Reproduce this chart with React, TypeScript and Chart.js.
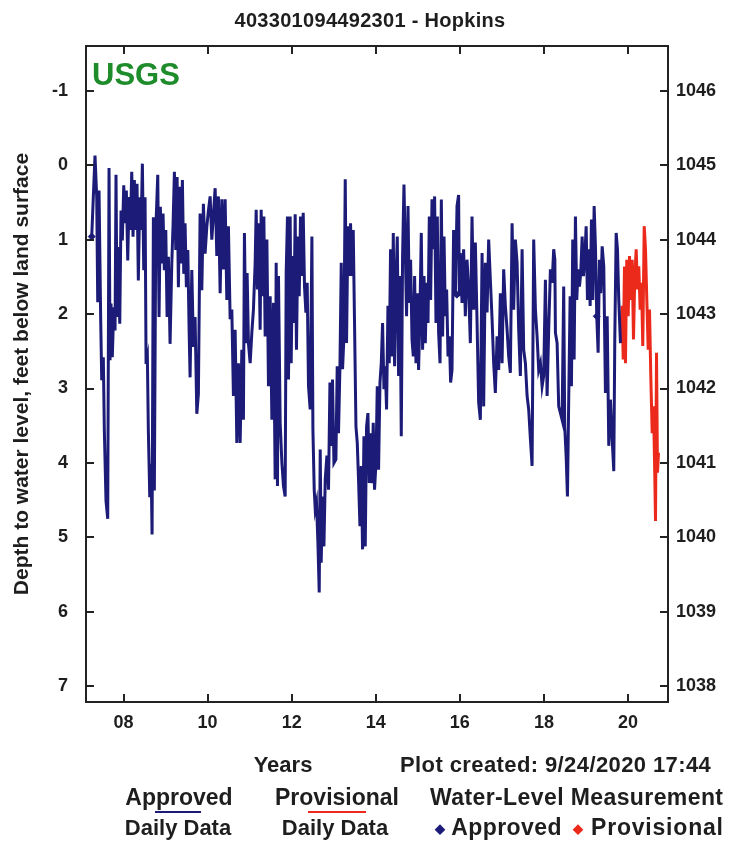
import React, { useEffect, useRef } from "react";
import { Chart, registerables } from "chart.js";

Chart.register(...registerables);

// ---------- data (decimal years, depth to water in feet below land surface) ----------
const approvedYears = [
  2007.243, 2007.321, 2007.362, 2007.386, 2007.417, 2007.457, 2007.481, 2007.519, 2007.543, 2007.583,
  2007.624, 2007.655, 2007.679, 2007.702, 2007.733, 2007.767, 2007.798, 2007.821, 2007.845, 2007.876,
  2007.91, 2007.94, 2007.971, 2008.005, 2008.036, 2008.067, 2008.1, 2008.131, 2008.162, 2008.195,
  2008.226, 2008.257, 2008.29, 2008.321, 2008.352, 2008.386, 2008.417, 2008.448, 2008.481, 2008.512,
  2008.536, 2008.567, 2008.59, 2008.624, 2008.655, 2008.679, 2008.71, 2008.733, 2008.767, 2008.814,
  2008.845, 2008.876, 2008.91, 2008.94, 2008.971, 2009.005, 2009.036, 2009.067, 2009.107, 2009.148,
  2009.179, 2009.21, 2009.243, 2009.274, 2009.305, 2009.338, 2009.369, 2009.4, 2009.433, 2009.464,
  2009.495, 2009.529, 2009.56, 2009.583, 2009.624, 2009.662, 2009.702, 2009.743, 2009.781, 2009.821,
  2009.862, 2009.9, 2009.94, 2009.981, 2010.019, 2010.06, 2010.1, 2010.179, 2010.219, 2010.257,
  2010.298, 2010.338, 2010.376, 2010.417, 2010.457, 2010.495, 2010.536, 2010.576, 2010.614, 2010.655,
  2010.695, 2010.733, 2010.774, 2010.814, 2010.852, 2010.876, 2010.91, 2010.94, 2010.971, 2011.012,
  2011.052, 2011.09, 2011.131, 2011.155, 2011.186, 2011.21, 2011.25, 2011.274, 2011.305, 2011.338,
  2011.369, 2011.41, 2011.448, 2011.488, 2011.529, 2011.567, 2011.607, 2011.631, 2011.662, 2011.686,
  2011.726, 2011.767, 2011.805, 2011.845, 2011.869, 2011.9, 2011.924, 2011.964, 2011.988, 2012.019,
  2012.052, 2012.083, 2012.114, 2012.148, 2012.179, 2012.21, 2012.243, 2012.274, 2012.305, 2012.338,
  2012.369, 2012.4, 2012.44, 2012.481, 2012.505, 2012.536, 2012.56, 2012.59, 2012.624, 2012.655,
  2012.679, 2012.702, 2012.733, 2012.767, 2012.798, 2012.838, 2012.876, 2012.91, 2012.94, 2012.971,
  2013.005, 2013.052, 2013.083, 2013.114, 2013.148, 2013.179, 2013.21, 2013.243, 2013.274, 2013.305,
  2013.338, 2013.369, 2013.4, 2013.433, 2013.464, 2013.495, 2013.529, 2013.56, 2013.59, 2013.624,
  2013.655, 2013.686, 2013.719, 2013.75, 2013.781, 2013.814, 2013.845, 2013.876, 2013.91, 2013.94,
  2013.971, 2014.005, 2014.036, 2014.067, 2014.1, 2014.131, 2014.162, 2014.195, 2014.226, 2014.257,
  2014.29, 2014.321, 2014.352, 2014.386, 2014.417, 2014.448, 2014.481, 2014.512, 2014.543, 2014.576,
  2014.607, 2014.638, 2014.671, 2014.702, 2014.733, 2014.767, 2014.798, 2014.829, 2014.862, 2014.893,
  2014.924, 2014.957, 2014.988, 2015.019, 2015.052, 2015.083, 2015.114, 2015.148, 2015.179, 2015.21,
  2015.243, 2015.274, 2015.305, 2015.338, 2015.369, 2015.4, 2015.433, 2015.464, 2015.495, 2015.529,
  2015.56, 2015.59, 2015.624, 2015.655, 2015.686, 2015.719, 2015.75, 2015.781, 2015.814, 2015.852,
  2015.893, 2015.933, 2015.971, 2015.988, 2016.012, 2016.052, 2016.09, 2016.131, 2016.171, 2016.21,
  2016.25, 2016.29, 2016.329, 2016.369, 2016.41, 2016.448, 2016.488, 2016.529, 2016.567, 2016.607,
  2016.648, 2016.686, 2016.726, 2016.767, 2016.805, 2016.845, 2016.886, 2016.924, 2016.964, 2017.005,
  2017.043, 2017.083, 2017.124, 2017.162, 2017.202, 2017.243, 2017.281, 2017.321, 2017.362, 2017.4,
  2017.44, 2017.481, 2017.519, 2017.56, 2017.6, 2017.638, 2017.679, 2017.719, 2017.757, 2017.798,
  2017.838, 2017.876, 2017.917, 2017.957, 2017.995, 2018.036, 2018.076, 2018.114, 2018.155, 2018.195,
  2018.233, 2018.26, 2018.274, 2018.314, 2018.352, 2018.393, 2018.433, 2018.471, 2018.495, 2018.529,
  2018.56, 2018.59, 2018.624, 2018.655, 2018.686, 2018.719, 2018.75, 2018.781, 2018.814, 2018.845,
  2018.876, 2018.91, 2018.94, 2018.971, 2019.005, 2019.036, 2019.067, 2019.1, 2019.131, 2019.162,
  2019.195, 2019.226, 2019.257, 2019.29, 2019.321, 2019.352, 2019.386, 2019.424, 2019.464, 2019.505,
  2019.543, 2019.583, 2019.624, 2019.662, 2019.686, 2019.719, 2019.75, 2019.781, 2019.821,
];
const approvedDepth = [
  0.96, -0.13, 0.43, 1.84, 0.34, 2.09, 2.89, 2.58, 3.56, 4.51,
  4.75, 0.04, 2.62, 1.86, 2.58, 1.91, 2.22, 0.13, 2.04, 1.1,
  2.13, 0.61, 1.01, 0.27, 0.78, 0.34, 1.28, 0.43, 0.87, 0.09,
  0.96, 0.2, 0.87, 0.25, 1.55, 0.43, 0.87, -0.02, 1.41, 0.43,
  2.67, 2.58, 3.56, 4.46, 4.01, 4.96, 0.7, 4.37, 0.87, 0.13,
  2.04, 0.56, 1.32, 0.65, 1.41, 0.87, 2.04, 1.23, 2.4, 1.32,
  0.78, 0.09, 1.14, 0.16, 1.64, 0.29, 1.32, 0.2, 1.46, 0.78,
  1.64, 1.14, 2.22, 2.85, 1.41, 2.44, 2.04, 3.34, 3.07, 0.65,
  1.68, 0.52, 1.19, 0.83, 0.61, 0.42, 1.0, 0.31, 1.22, 0.42,
  1.72, 0.46, 1.4, 0.46, 1.81, 0.82, 2.07, 1.94, 3.1, 2.21,
  3.73, 2.66, 3.73, 2.48, 3.42, 0.91, 2.39, 1.45, 2.39, 2.66,
  2.25, 1.94, 1.31, 0.6, 1.67, 0.78, 2.21, 0.6, 1.76, 0.69,
  2.3, 1.0, 2.97, 1.76, 3.42, 1.85, 4.22, 1.31, 4.31, 1.49,
  3.46, 4.0, 4.31, 4.45, 1.45, 0.69, 2.88, 0.69, 2.66, 1.22,
  2.12, 0.66, 2.48, 0.96, 1.76, 0.69, 1.49, 0.64, 1.63, 1.98,
  1.58, 2.97, 3.28, 0.96, 3.55, 4.36, 4.62, 4.53, 5.07, 5.74,
  3.82, 5.34, 4.45, 5.12, 4.22, 3.9, 4.36, 2.92, 3.77, 2.88,
  4.0, 3.95, 2.7, 3.6, 2.7, 1.31, 2.74, 2.3, 0.19, 2.39,
  0.82, 1.49, 0.78, 1.49, 0.87, 2.12, 3.51, 3.73, 4.22, 4.85,
  4.04, 5.16, 3.64, 5.12, 3.51, 3.33, 4.27, 3.6, 4.27, 3.46,
  4.36, 4.0, 2.97, 4.09, 2.92, 2.66, 2.12, 3.01, 2.7, 3.28,
  1.89, 2.66, 1.13, 2.57, 0.91, 2.7, 1.58, 0.96, 2.83, 1.49,
  3.64, 1.22, 0.26, 1.13, 2.03, 0.55, 1.85, 1.27, 2.34, 2.57,
  1.49, 2.66, 1.72, 2.75, 1.94, 0.91, 2.48, 1.49, 2.39, 1.58,
  2.12, 0.69, 1.81, 0.46, 1.13, 0.42, 2.12, 0.69, 2.25, 2.66,
  0.46, 2.3, 0.96, 2.03, 1.67, 2.57, 2.3, 2.92, 2.75, 0.87,
  1.76, 0.55, 0.4, 1.76, 1.18, 1.85, 1.13, 2.03, 1.27, 1.67,
  2.39, 0.69, 1.94, 1.04, 2.12, 3.19, 3.42, 1.18, 3.24, 1.31,
  1.98, 1.0, 1.54, 2.07, 2.66, 3.06, 2.3, 2.75, 1.72, 2.66,
  1.4, 1.89, 2.21, 2.57, 2.79, 0.78, 1.94, 1.0, 1.31, 2.21,
  2.83, 1.13, 2.48, 2.66, 3.1, 3.28, 3.68, 4.04, 1.0, 1.94,
  2.3, 2.75, 2.66, 2.97, 2.83, 1.54, 3.1, 2.21, 1.4, 1.58,
  1.13, 1.27, 2.25, 2.39, 3.24, 3.33, 3.42, 1.63, 3.51, 3.91,
  4.45, 3.15, 1.76, 2.97, 1.0, 2.61, 0.69, 1.81, 1.4, 1.63,
  1.45, 0.96, 1.49, 1.27, 0.82, 1.81, 1.13, 1.89, 0.73, 1.81,
  0.55, 1.09, 2.03, 2.52, 1.27, 1.72, 1.09, 1.36, 3.06, 2.03,
  3.77, 3.15, 3.68, 4.11, 2.34, 0.91, 1.13, 1.81, 2.39,
];
const provisionalYears = [
  2019.821, 2019.862, 2019.886, 2019.917, 2019.94, 2019.971, 2020.005, 2020.036, 2020.067, 2020.1,
  2020.131, 2020.162, 2020.195, 2020.226, 2020.257, 2020.29, 2020.321, 2020.352, 2020.386, 2020.417,
  2020.448, 2020.481, 2020.512, 2020.543, 2020.576, 2020.607, 2020.638, 2020.655, 2020.679, 2020.702,
  2020.726,
];
const provisionalDepth = [
  2.39, 1.89, 2.61, 1.36, 2.66, 1.27, 2.03, 1.22, 1.81, 1.27,
  2.34, 1.49, 1.13, 1.67, 1.36, 1.94, 1.58, 2.43, 0.82, 1.13,
  1.81, 2.48, 1.94, 2.84, 3.6, 3.24, 4.18, 4.78, 2.52, 4.13,
  3.86,
];
const measurementYears = [2007.243, 2015.93, 2019.257];
const measurementDepth = [0.96, 1.74, 2.03];

const depthTicks = [-1, 0, 1, 2, 3, 4, 5, 6, 7];
const elevationTicks = [1038, 1039, 1040, 1041, 1042, 1043, 1044, 1045, 1046];
const yearTicks = [2008, 2010, 2012, 2014, 2016, 2018, 2020];
const yearTickLabels = ["08", "10", "12", "14", "16", "18", "20"];
const landSurfaceElevation = 1045;
const depthTop = -1.6;
const depthBottom = 7.21;
const yearStart = 2007.107;
const yearEnd = 2020.952;

const NAVY = "#1c1c78";
const RED = "#ec2a1c";
const TEXT = "#1e1e1e";
const FONT = "'Liberation Sans', Arial, Helvetica, sans-serif";

const frameAndTicks = {
  id: "frameAndTicks",
  afterDatasetsDraw(chart: any) {
    const { ctx, chartArea: a, scales } = chart;
    const L = 8;
    ctx.save();
    ctx.strokeStyle = "#222";
    ctx.lineWidth = 2;
    ctx.strokeRect(a.left, a.top, a.right - a.left, a.bottom - a.top);
    ctx.beginPath();
    yearTicks.forEach((v) => {
      const x = Math.round(scales.x.getPixelForValue(v));
      ctx.moveTo(x, a.bottom);
      ctx.lineTo(x, a.bottom - L);
      ctx.moveTo(x, a.top);
      ctx.lineTo(x, a.top + L);
    });
    depthTicks.forEach((v) => {
      const y = Math.round(scales.y.getPixelForValue(v));
      ctx.moveTo(a.left, y);
      ctx.lineTo(a.left + L, y);
    });
    elevationTicks.forEach((v) => {
      const y = Math.round(scales.y2.getPixelForValue(v));
      ctx.moveTo(a.right, y);
      ctx.lineTo(a.right - L, y);
    });
    ctx.stroke();
    ctx.restore();
  },
};

export default function App() {
  const ref = useRef<HTMLCanvasElement | null>(null);

  useEffect(() => {
    if (!ref.current) return;
    const tickFont = { family: FONT, size: 18, weight: "bold" as const };
    const chart = new Chart(ref.current, {
      type: "line",
      data: {
        datasets: [
          {
            label: "Approved Daily Data",
            data: approvedYears.map((x, i) => ({ x, y: approvedDepth[i] })),
            borderColor: NAVY,
            borderWidth: 3,
            borderJoinStyle: "miter",
            pointRadius: 0,
            tension: 0,
            yAxisID: "y",
          },
          {
            label: "Provisional Daily Data",
            data: provisionalYears.map((x, i) => ({ x, y: provisionalDepth[i] })),
            borderColor: RED,
            borderWidth: 3,
            borderJoinStyle: "miter",
            pointRadius: 0,
            tension: 0,
            yAxisID: "y",
          },
          {
            label: "Approved measurement",
            data: measurementYears.map((x, i) => ({ x, y: measurementDepth[i] })),
            showLine: false,
            pointStyle: "rectRot",
            pointRadius: 3.5,
            backgroundColor: NAVY,
            borderColor: NAVY,
            yAxisID: "y",
          },
        ],
      },
      options: {
        responsive: false,
        animation: false,
        events: [],
        layout: { padding: { top: 46, left: 0, right: 0, bottom: 0 } },
        plugins: { legend: { display: false }, title: { display: false }, tooltip: { enabled: false } },
        scales: {
          x: {
            type: "linear",
            min: yearStart,
            max: yearEnd,
            grid: { display: false },
            border: { display: false },
            afterBuildTicks: (s: any) => {
              s.ticks = yearTicks.map((value) => ({ value }));
            },
            afterFit: (s: any) => {
              s.height = 142;
            },
            ticks: {
              autoSkip: false,
              maxRotation: 0,
              padding: 2,
              color: TEXT,
              font: tickFont,
              callback: (v: any) => {
                const i = yearTicks.indexOf(Number(v));
                return i >= 0 ? yearTickLabels[i] : "";
              },
            },
          },
          y: {
            type: "linear",
            position: "left",
            reverse: true,
            min: depthTop,
            max: depthBottom,
            grid: { display: false },
            border: { display: false },
            afterBuildTicks: (s: any) => {
              s.ticks = depthTicks.map((value) => ({ value }));
            },
            afterFit: (s: any) => {
              s.width = 86;
            },
            ticks: { padding: 10, color: TEXT, font: tickFont, callback: (v: any) => String(v) },
            title: {
              display: true,
              text: "Depth to water level, feet below land surface",
              color: TEXT,
              font: { family: FONT, size: 21, weight: "bold", lineHeight: 1.2 },
              padding: { top: 10, bottom: 0 },
            },
          },
          y2: {
            type: "linear",
            position: "right",
            min: landSurfaceElevation - depthBottom,
            max: landSurfaceElevation - depthTop,
            grid: { display: false },
            border: { display: false },
            afterBuildTicks: (s: any) => {
              s.ticks = elevationTicks.map((value) => ({ value }));
            },
            afterFit: (s: any) => {
              s.width = 68;
            },
            ticks: { padding: 0, color: TEXT, font: tickFont, callback: (v: any) => String(v) },
          },
        },
      },
      plugins: [frameAndTicks],
    } as any);
    return () => chart.destroy();
  }, []);

  const abs = (o: React.CSSProperties): React.CSSProperties => ({ position: "absolute", whiteSpace: "nowrap", ...o });
  const legendFont: React.CSSProperties = { fontSize: 22, fontWeight: "bold", lineHeight: "22px" };
  const legendFontBig: React.CSSProperties = { fontSize: 23, fontWeight: "bold", lineHeight: "23px" };

  return (
    <div
      style={{
        position: "absolute",
        left: 0,
        top: 0,
        width: 736,
        height: 844,
        background: "#fff",
        fontFamily: FONT,
        color: TEXT,
        overflow: "hidden",
      }}
    >
      <canvas ref={ref} width={736} height={844} style={{ position: "absolute", left: 0, top: 0, width: 736, height: 844 }} />
      <div style={abs({ left: 370, top: 10, transform: "translateX(-50%)", fontSize: 20, fontWeight: "bold", lineHeight: "20px", letterSpacing: "0.3px" })}>
        403301094492301 - Hopkins
      </div>
      <div style={abs({ left: 92, top: 59, fontSize: 31, fontWeight: "bold", lineHeight: "32px", color: "#1f8c2c" })}>USGS</div>

      <div style={abs({ left: 283, top: 754, transform: "translateX(-50%)", ...legendFont })}>Years</div>
      <div style={abs({ left: 400, top: 754, ...legendFont, letterSpacing: "0.4px" })}>Plot created: 9/24/2020 17:44</div>

      <div style={abs({ left: 179, top: 786, transform: "translateX(-50%)", ...legendFontBig })}>Approved</div>
      <div style={abs({ left: 155, top: 811, width: 46, height: 2, background: NAVY })} />
      <div style={abs({ left: 178, top: 817, transform: "translateX(-50%)", ...legendFont })}>Daily Data</div>

      <div style={abs({ left: 337, top: 786, transform: "translateX(-50%)", ...legendFontBig })}>Provisional</div>
      <div style={abs({ left: 308, top: 811, width: 58, height: 2, background: RED })} />
      <div style={abs({ left: 335, top: 817, transform: "translateX(-50%)", ...legendFont })}>Daily Data</div>

      <div style={abs({ left: 430, top: 786, ...legendFontBig, letterSpacing: "0.4px" })}>Water-Level Measurement</div>
      <div style={abs({ left: 435, top: 816, ...legendFontBig, letterSpacing: "0.4px" })}>
        <span style={{ color: NAVY, fontSize: 13, verticalAlign: "middle" }}>◆</span> Approved
      </div>
      <div style={abs({ left: 573, top: 816, ...legendFontBig, letterSpacing: "0.8px" })}>
        <span style={{ color: RED, fontSize: 13, verticalAlign: "middle" }}>◆</span> Provisional
      </div>
    </div>
  );
}
